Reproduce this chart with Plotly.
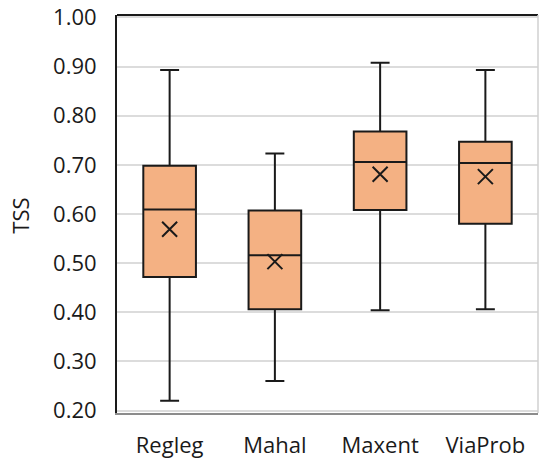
import plotly.graph_objects as go

categories = ["Regleg", "Mahal", "Maxent", "ViaProb"]
lower_whisker = [0.220, 0.260, 0.404, 0.406]
q1_values = [0.472, 0.406, 0.608, 0.580]
median_values = [0.609, 0.516, 0.706, 0.704]
q3_values = [0.698, 0.607, 0.768, 0.747]
upper_whisker = [0.893, 0.723, 0.908, 0.893]
mean_values = [0.569, 0.503, 0.681, 0.676]
y_tick_values = [0.2, 0.3, 0.4, 0.5, 0.6, 0.7, 0.8, 0.9, 1.0]
y_tick_labels = ["0.20", "0.30", "0.40", "0.50", "0.60", "0.70", "0.80", "0.90", "1.00"]

FONT = "Open Sans"

fig = go.Figure()
fig.add_trace(go.Box(
    x=categories,
    q1=q1_values,
    median=median_values,
    q3=q3_values,
    lowerfence=lower_whisker,
    upperfence=upper_whisker,
    fillcolor="#F4B183",
    line=dict(color="#1a1a1a", width=2),
    width=0.5,
    whiskerwidth=0.36,
    boxpoints=False,
    hoverinfo="skip",
    showlegend=False,
))
fig.add_trace(go.Scatter(
    x=categories,
    y=mean_values,
    mode="markers",
    marker=dict(symbol="x-thin-open", size=15, color="#1a1a1a",
                line=dict(color="#1a1a1a", width=2)),
    showlegend=False,
    hoverinfo="skip",
))

fig.update_layout(
    width=539, height=465,
    margin=dict(l=117, r=1, t=15, b=52, autoexpand=False),
    plot_bgcolor="white", paper_bgcolor="white",
    font=dict(family=FONT, size=22, color="#1a1a1a"),
    xaxis=dict(
        type="category",
        showgrid=False,
        showline=True, linecolor="#8c8c8c", linewidth=2,
        ticks="", tickfont=dict(size=22, family=FONT),
        ticklabelstandoff=12,
        range=[-0.5, 3.5],
        automargin=False,
        fixedrange=True,
    ),
    yaxis=dict(
        range=[0.195, 1.005],
        tickvals=y_tick_values,
        ticktext=y_tick_labels,
        tickfont=dict(size=22, family=FONT),
        ticklabelstandoff=14,
        showgrid=True, gridcolor="#dcdcdc", gridwidth=1.5,
        zeroline=False,
        showline=True, linecolor="#1a1a1a", linewidth=2,
        ticks="",
        automargin=False,
        fixedrange=True,
    ),
    annotations=[
        dict(text="TSS", xref="paper", yref="paper", x=-0.231, y=0.495,
             textangle=-90, showarrow=False, xanchor="center", yanchor="middle",
             font=dict(size=22, family=FONT, color="#1a1a1a")),
    ],
    shapes=[
        dict(type="line", xref="paper", yref="paper", x0=0, x1=1, y0=1, y1=1,
             line=dict(color="#1a1a1a", width=2)),
        dict(type="line", xref="paper", yref="paper", x0=1, x1=1, y0=0, y1=1,
             line=dict(color="#d0d0d0", width=1.5)),
    ],
)

fig.write_html("out.html", config={"displayModeBar": False},
               post_script="document.body.style.margin='0px';")
